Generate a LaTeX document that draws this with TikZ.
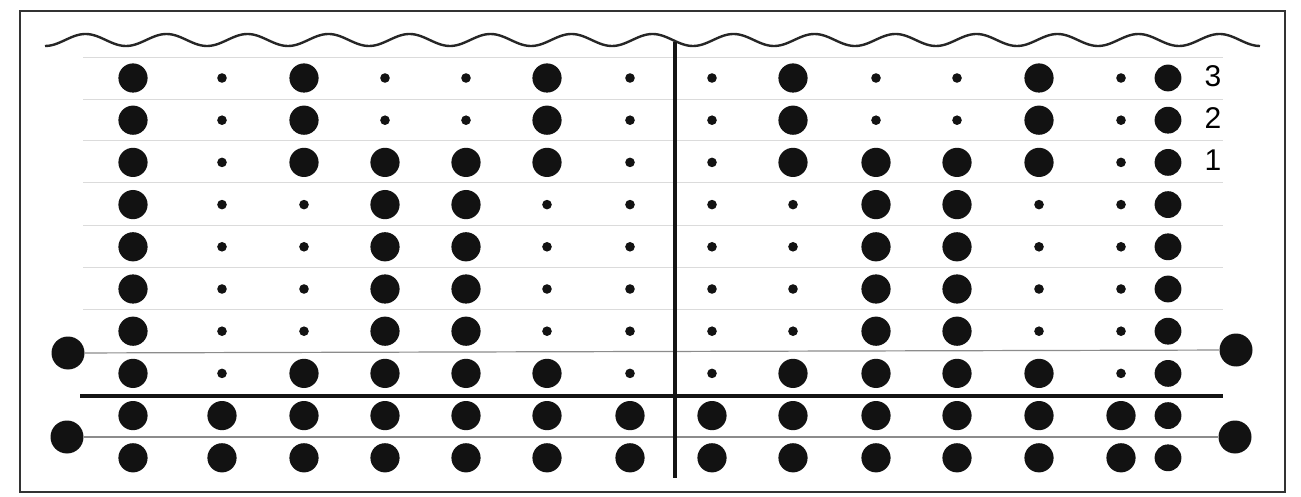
\documentclass[tikz,border=0pt]{standalone}
\usepackage{fontspec}
\setmainfont{Liberation Sans}
\begin{document}
\begin{tikzpicture}[x=0.5pt,y=-0.5pt,
  bigdot/.style={circle,fill=black!93,inner sep=0pt,minimum size=14.6pt},
  lastdot/.style={circle,fill=black!93,inner sep=0pt,minimum size=13.4pt},
  smalldot/.style={circle,fill=black!93,inner sep=0pt,minimum size=4.8pt},
  sidedot/.style={circle,fill=black!93,inner sep=0pt,minimum size=16.5pt},
  faint/.style={draw=black!14,line width=0.5pt},
  guide/.style={draw=black!45,line width=0.6pt},
  heavy/.style={line width=1.6pt,black!92},
  rowlabel/.style={inner sep=0pt,font=\fontsize{15}{16}\selectfont}]
\useasboundingbox (0,0) rectangle (1301,497);
\fill[white] (0,0) rectangle (1301,497);
% border
\draw[line width=1.25pt,black!80] (20,11) rectangle (1285,492);
% faint ruling lines
\foreach \yy in {58,100,141,183,226,268,310}
  \draw[faint] (83,\yy) -- (1223,\yy);
% wavy top edge
\draw[line width=1.2pt,black!85] plot[domain=45:1260,samples=500] (\x,{40+6*cos((\x-45)/81*360)});
% side dots and their lines
\node[sidedot] (L1) at (68,353) {};
\node[sidedot] (R1) at (1236,350) {};
\node[sidedot] (L2) at (67,437) {};
\node[sidedot] (R2) at (1235,437) {};
\draw[guide] (L1) -- (R1);
\draw[guide] (L2) -- (R2);
% grid of dots
\foreach \r/\pat in {1/{1,0,1,0,0,1,0,0,1,0,0,1,0,1},
                     2/{1,0,1,0,0,1,0,0,1,0,0,1,0,1},
                     3/{1,0,1,1,1,1,0,0,1,1,1,1,0,1},
                     4/{1,0,0,1,1,0,0,0,0,1,1,0,0,1},
                     5/{1,0,0,1,1,0,0,0,0,1,1,0,0,1},
                     6/{1,0,0,1,1,0,0,0,0,1,1,0,0,1},
                     7/{1,0,0,1,1,0,0,0,0,1,1,0,0,1},
                     8/{1,0,1,1,1,1,0,0,1,1,1,1,0,1},
                     9/{1,1,1,1,1,1,1,1,1,1,1,1,1,1},
                     10/{1,1,1,1,1,1,1,1,1,1,1,1,1,1}}{
  \pgfmathsetmacro\yy{78+(\r-1)*42.2}
  \foreach \v [count=\c] in \pat {
    \pgfmathsetmacro\xx{{133,222,304,385,466,547,630,712,793,876,957,1039,1121,1168}[\c-1]}
    \ifnum\v=1
      \ifnum\c=14
        \node[lastdot] (d-\r-\c) at (\xx,\yy) {};
      \else
        \node[bigdot] (d-\r-\c) at (\xx,\yy) {};
      \fi
    \else
      \node[smalldot] (d-\r-\c) at (\xx,\yy) {};
    \fi
  }
}
% heavy dividing lines
\coordinate (vtop) at (675,42);
\coordinate (vbot) at (675,478);
\coordinate (hl) at (80,396);
\coordinate (hr) at (1223,396);
\draw[heavy] (vtop) -- (vbot);
\draw[heavy] (hl) -- (hr);
% row labels
\node[rowlabel] (lab3) at (1213,76) {3};
\node[rowlabel] (lab2) at (1213,118) {2};
\node[rowlabel] (lab1) at (1213,160) {1};
\end{tikzpicture}
\end{document}
